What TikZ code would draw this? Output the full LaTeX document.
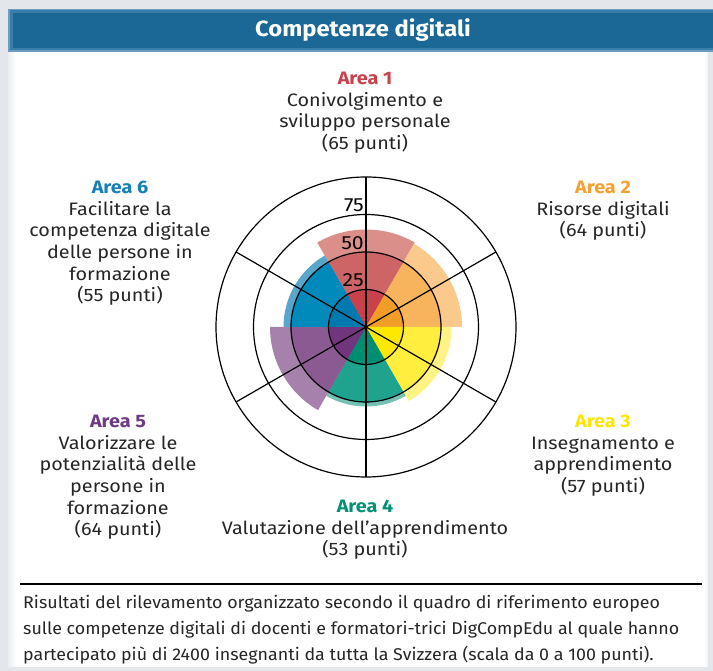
\documentclass[tikz,border=0pt]{standalone}
\usepackage{fontspec}
\setmainfont{Fira Sans}
\newfontfamily\labfont{Fira Sans}[FakeStretch=1.1]
\newfontfamily\footfont{Fira Sans}[FakeStretch=1.05]
\newfontfamily\titlefont{Fira Sans}[FakeStretch=1.08]
\newfontfamily\tickfont{Fira Sans}[FakeStretch=1.12]
\usepackage{xcolor}
\definecolor{bggray}{HTML}{E3E7EB}
\definecolor{headblue}{HTML}{1B6896}
\definecolor{headmid}{HTML}{3A7DA8}
\definecolor{headedge}{HTML}{6B9DC0}
\definecolor{rA}{HTML}{C8414B}\definecolor{rB}{HTML}{CD6567}\definecolor{rC}{HTML}{DA8F8B}
\definecolor{oA}{HTML}{F29D27}\definecolor{oB}{HTML}{F8B35D}\definecolor{oC}{HTML}{FBC98B}
\definecolor{yA}{HTML}{FFE800}\definecolor{yB}{HTML}{FFEE3E}\definecolor{yC}{HTML}{FFF385}
\definecolor{tA}{HTML}{008E73}\definecolor{tB}{HTML}{1FA38F}\definecolor{tC}{HTML}{75C1B4}
\definecolor{pA}{HTML}{71357E}\definecolor{pB}{HTML}{8C5A92}\definecolor{pC}{HTML}{A681AC}
\definecolor{bA}{HTML}{0079AE}\definecolor{bB}{HTML}{008ABB}\definecolor{bC}{HTML}{59A6CB}
\definecolor{lab1}{HTML}{C8414B}\definecolor{lab2}{HTML}{F5A030}\definecolor{lab3}{HTML}{FFE600}
\definecolor{lab4}{HTML}{079176}\definecolor{lab5}{HTML}{6E3A80}\definecolor{lab6}{HTML}{1680B8}
\tikzset{
  arealabel/.style={anchor=north, inner sep=0pt, align=center, font=\labfont\fontsize{18}{21.6}\selectfont, text=black!85},
  gridline/.style={draw=black, line width=1.2pt},
  ticklabel/.style={anchor=south east, inner sep=1pt, font=\tickfont\fontsize{19}{19}\selectfont},
}
\newcommand{\wedgefill}[4]{% color, start angle, end angle, radius(pt)
  \fill[#1] (ctr) -- ++(#2:#4) arc[start angle=#2, end angle=#3, radius=#4] -- cycle;}
\begin{document}
\begin{tikzpicture}[x=1pt,y=1pt]
\useasboundingbox (0,0) rectangle (713,671);
\fill[bggray] (0,0) rectangle (713,671);
\fill[white] (8,4) rectangle (708,662);
\fill[left color=bggray!70, right color=white] (8,4) rectangle (16,619);
\fill[left color=white, right color=bggray!60] (704,4) rectangle (708,619);
% header band
\fill[headedge] (8,619) rectangle (713,662);
\fill[headmid] (10,620.5) rectangle (713,660.5);
\fill[headblue] (13,623) rectangle (713,658);
\node[font=\titlefont\fontsize{22}{22}\selectfont\bfseries, text=white] (title) at (363,641) {Competenze digitali};
% chart
\coordinate (ctr) at (366,344);
% light outer parts
\wedgefill{rC}{60}{120}{97.5pt}
\wedgefill{oC}{0}{60}{96pt}
\wedgefill{yC}{-60}{0}{85.5pt}
\wedgefill{tC}{240}{300}{79.5pt}
\wedgefill{pC}{180}{240}{96pt}
\wedgefill{bC}{120}{180}{82.5pt}
% middle parts
\wedgefill{rB}{60}{120}{75pt}
\wedgefill{oB}{0}{60}{75pt}
\wedgefill{yB}{-60}{0}{75pt}
\wedgefill{tB}{240}{300}{75pt}
\wedgefill{pB}{180}{240}{75pt}
\wedgefill{bB}{120}{180}{75pt}
% inner parts
\wedgefill{rA}{60}{120}{37.5pt}
\wedgefill{oA}{0}{60}{37.5pt}
\wedgefill{yA}{-60}{0}{37.5pt}
\wedgefill{tA}{240}{300}{37.5pt}
\wedgefill{pA}{180}{240}{37.5pt}
\wedgefill{bA}{120}{180}{37.5pt}
% grid circles
\foreach \r in {37.5,75,112.5,150}{\draw[gridline] (ctr) circle[radius=\r pt];}
% spokes
\foreach \a/\nm in {90/v,30/d,150/e}{
  \coordinate (\nm p) at ([shift={(\a:150pt)}]ctr);
  \coordinate (\nm m) at ([shift={(\a+180:150pt)}]ctr);
  \draw[gridline] (\nm p) -- (\nm m);
}
% tick labels
\node[ticklabel] (t25) at ([shift={(-1pt,39pt)}]ctr) {25};
\node[ticklabel] (t50) at ([shift={(-1pt,76.5pt)}]ctr) {50};
\node[ticklabel] (t75) at ([shift={(-1pt,114pt)}]ctr) {75};
% area labels
\node[arealabel] (a1) at (365,599) {\textcolor{lab1}{\bfseries Area 1}\\Conivolgimento e\\sviluppo personale\\(65 punti)};
\node[arealabel] (a2) at (603,490) {\textcolor{lab2}{\bfseries Area 2}\\Risorse digitali\\(64 punti)};
\node[arealabel] (a6) at (120,490) {\textcolor{lab6}{\bfseries Area 6}\\Facilitare la\\competenza digitale\\delle persone in\\formazione\\(55 punti)};
\node[arealabel] (a3) at (603,256) {\textcolor{lab3}{\bfseries Area 3}\\Insegnamento e\\apprendimento\\(57 punti)};
\node[arealabel] (a5) at (118,256) {\textcolor{lab5}{\bfseries Area 5}\\Valorizzare le\\potenzialità delle\\persone in\\formazione\\(64 punti)};
\node[arealabel] (a4) at (365,171) {\textcolor{lab4}{\bfseries Area 4}\\Valutazione dell’apprendimento\\(53 punti)};
% separator
\coordinate (sepL) at (20,87);
\coordinate (sepR) at (702,87);
\draw[line width=1.3pt] (sepL) -- (sepR);
% footer
\node[anchor=north west, inner sep=0pt, align=left, font=\footfont\fontsize{17}{26}\selectfont, text=black!85] (foot) at (23,75.5)
 {Risultati del rilevamento organizzato secondo il quadro di riferimento europeo\\
  sulle competenze digitali di docenti e formatori-trici DigCompEdu al quale hanno\\
  partecipato più di 2400 insegnanti da tutta la Svizzera (scala da 0 a 100 punti).};
\end{tikzpicture}
\end{document}
